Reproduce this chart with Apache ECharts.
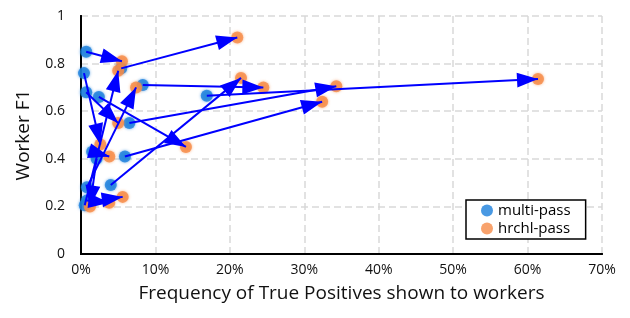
<!DOCTYPE html>
<html>
<head>
<meta charset="utf-8">
<script src="https://cdn.jsdelivr.net/npm/echarts@6/dist/echarts.min.js"></script>
<style>
html,body{margin:0;padding:0;background:#fff;}
#chart{width:630px;height:318px;}
</style>
</head>
<body>
<div id="chart"></div>
<script>
// x = % of true positives shown, y = worker F1
// multiPass[i] -> hrchlPass[i] is one arrow
var multiPass = [
  [0.7, 0.85], [5.4, 0.78], [0.4, 0.76], [0.7, 0.68],
  [2.4, 0.66], [8.3, 0.71], [16.9, 0.665], [6.5, 0.55],
  [5.9, 0.41], [4.0, 0.29], [0.5, 0.205], [0.8, 0.28],
  [1.5, 0.43], [2.1, 0.40], [0.8, 0.225], [1.2, 0.22]
];
var hrchlPass = [
  [5.5, 0.81], [21.0, 0.91], [2.6, 0.46], [5.0, 0.55],
  [14.1, 0.45], [24.5, 0.70], [61.4, 0.735], [34.3, 0.705],
  [32.4, 0.64], [21.5, 0.74], [5.0, 0.77], [7.4, 0.70],
  [3.8, 0.41], [1.2, 0.20], [3.8, 0.215], [5.6, 0.24]
];
var xTicks = [0, 10, 20, 30, 40, 50, 60, 70];
var yTicks = [0, 0.2, 0.4, 0.6, 0.8, 1];

var arrows = multiPass.map(function (p, i) {
  return { coords: [p, hrchlPass[i]] };
});

// triangle whose tip sits at the symbol centre (empty point keeps the box)
var arrowHead = 'path://M0,0 L0.01,0 Z M0,10 L5,20 L-5,20 Z';
var headSize = [15, 42];

var fontName = 'Open Sans';
var gridLine = { show: true, lineStyle: { color: '#d9d9d9', width: 1.5, type: [7, 4] } };
var frame = { show: true, lineStyle: { color: '#000', width: 2 } };

var myChart = echarts.init(document.getElementById('chart'));
var option = {
  animation: false,
  textStyle: { fontFamily: fontName },
  grid: { left: 81, right: 28, top: 16, bottom: 64 },
  legend: {
    orient: 'vertical',
    left: 466, top: 200,
    padding: [3, 15, 3, 15],
    itemGap: 3,
    itemWidth: 12, itemHeight: 12,
    borderColor: '#000', borderWidth: 1.5,
    backgroundColor: '#fff',
    textStyle: { fontSize: 15, color: '#000', fontFamily: fontName },
    data: [{ name: 'multi-pass', icon: 'circle' }, { name: 'hrchl-pass', icon: 'circle' }]
  },
  xAxis: [{
    type: 'value',
    min: xTicks[0], max: xTicks[xTicks.length - 1], interval: 10,
    name: 'Frequency of True Positives shown to workers',
    nameLocation: 'middle', nameGap: 30,
    nameTextStyle: { fontSize: 19, color: '#111' },
    axisLine: frame,
    axisTick: { show: false },
    axisLabel: { fontSize: 14, color: '#111', margin: 9, formatter: '{value}%' },
    splitLine: gridLine
  }, {
    type: 'value', position: 'top',
    min: xTicks[0], max: xTicks[xTicks.length - 1], interval: 10,
    axisLine: frame, axisTick: { show: false }, axisLabel: { show: false }, splitLine: { show: false }
  }],
  yAxis: [{
    type: 'value',
    min: yTicks[0], max: yTicks[yTicks.length - 1], interval: 0.2,
    name: 'Worker F1',
    nameLocation: 'middle', nameGap: 48,
    nameTextStyle: { fontSize: 19, color: '#111' },
    axisLine: frame,
    axisTick: { show: false },
    axisLabel: { fontSize: 14, color: '#111', margin: 16 },
    splitLine: gridLine
  }, {
    type: 'value', position: 'right',
    min: yTicks[0], max: yTicks[yTicks.length - 1], interval: 0.2,
    axisLine: frame, axisTick: { show: false }, axisLabel: { show: false }, splitLine: { show: false }
  }],
  series: [
    {
      name: 'multi-pass',
      type: 'scatter',
      symbol: 'circle',
      symbolSize: 12,
      itemStyle: { color: '#1c7fdc', shadowBlur: 3, shadowColor: 'rgba(28,127,220,0.8)' },
      data: multiPass,
      z: 2
    },
    {
      name: 'hrchl-pass',
      type: 'scatter',
      symbol: 'circle',
      symbolSize: 12,
      itemStyle: { color: '#f68b47', shadowBlur: 3, shadowColor: 'rgba(246,139,71,0.8)' },
      data: hrchlPass,
      z: 3
    },
    {
      name: 'arrows',
      type: 'lines',
      coordinateSystem: 'cartesian2d',
      symbol: ['none', arrowHead],
      symbolSize: [headSize, headSize],
      lineStyle: { color: '#0000ff', width: 2, opacity: 1, curveness: 0 },
      itemStyle: { color: '#0000ff' },
      data: arrows,
      z: 4
    }
  ]
};
myChart.setOption(option);
</script>
</body>
</html>
